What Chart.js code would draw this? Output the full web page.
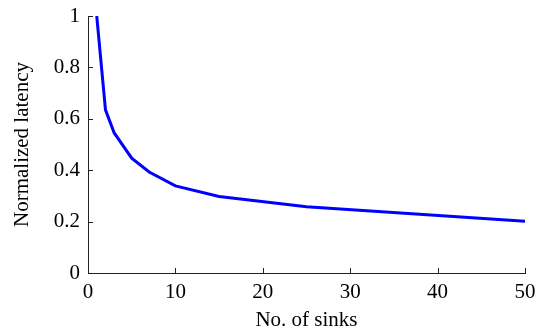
<!DOCTYPE html>
<html>
<head>
<meta charset="utf-8">
<script src="https://cdn.jsdelivr.net/npm/chart.js@4"></script>
<style>
  html, body { margin: 0; padding: 0; background: #fff; }
  #wrap { width: 542px; height: 333px; }
</style>
</head>
<body>
<div id="wrap"><canvas id="c" width="542" height="333"></canvas></div>
<script>
// values
const sinks = [1, 2, 3, 5, 7, 10, 15, 25, 50];
const latency = [1.0, 0.635, 0.545, 0.447, 0.393, 0.339, 0.298, 0.258, 0.201];
const xTicks = [0, 10, 20, 30, 40, 50];
const yTicks = [0, 0.2, 0.4, 0.6, 0.8, 1];

// inward ticks like matlab
const inwardTicks = {
    id: 'inwardTicks',
    afterDraw: (chart) => {
        const ctx = chart.ctx;
        const x = chart.scales.x;
        const y = chart.scales.y;
        ctx.save();
        ctx.strokeStyle = '#222';
        ctx.lineWidth = 1;
        ctx.beginPath();
        xTicks.forEach((v) => {
            const px = Math.round(x.getPixelForValue(v)) + 0.5;
            ctx.moveTo(px, y.bottom);
            ctx.lineTo(px, y.bottom - 5);
        });
        yTicks.forEach((v) => {
            const py = Math.round(y.getPixelForValue(v)) + 0.5;
            ctx.moveTo(x.left, py);
            ctx.lineTo(x.left + 5, py);
        });
        ctx.stroke();
        ctx.restore();
    }
};

Chart.defaults.font.family = '"Liberation Serif", "Times New Roman", serif';
Chart.defaults.color = '#000';

new Chart(document.getElementById('c'), {
    type: 'line',
    data: {
        datasets: [{
            data: sinks.map((s, i) => ({ x: s, y: latency[i] })),
            borderColor: '#0000ff',
            borderWidth: 3,
            pointRadius: 0,
            tension: 0,
            fill: false
        }]
    },
    options: {
        responsive: false,
        animation: false,
        plugins: {
            legend: { display: false },
            tooltip: { enabled: false }
        },
        layout: {
            padding: { top: 16, right: 17, left: 0, bottom: 0 }
        },
        scales: {
            x: {
                type: 'linear',
                min: 0,
                max: 50,
                afterBuildTicks: (s) => { s.ticks = xTicks.map((v) => ({ value: v })); },
                afterFit: (s) => {
                    s.height = 60;
                    s.paddingLeft = 0;
                    s.paddingRight = 0;
                },
                ticks: {
                    font: { size: 21 },
                    padding: 7,
                    maxRotation: 0
                },
                grid: { display: false, drawTicks: false },
                border: { display: true, color: '#222', width: 1 },
                title: {
                    display: true,
                    text: 'No. of sinks',
                    font: { size: 21 },
                    padding: { top: 0, bottom: 0 }
                }
            },
            y: {
                type: 'linear',
                min: 0,
                max: 1,
                afterBuildTicks: (s) => { s.ticks = yTicks.map((v) => ({ value: v })); },
                afterFit: (s) => {
                    s.width = 88;
                    s.paddingTop = 0;
                    s.paddingBottom = 0;
                },
                ticks: {
                    font: { size: 21 },
                    padding: 8,
                    callback: (v) => String(v)
                },
                grid: { display: false, drawTicks: false },
                border: { display: true, color: '#222', width: 1 },
                title: {
                    display: true,
                    text: 'Normalized latency',
                    font: { size: 21 },
                    padding: { top: 10, bottom: 0 }
                }
            }
        }
    },
    plugins: [inwardTicks]
});
</script>
</body>
</html>
